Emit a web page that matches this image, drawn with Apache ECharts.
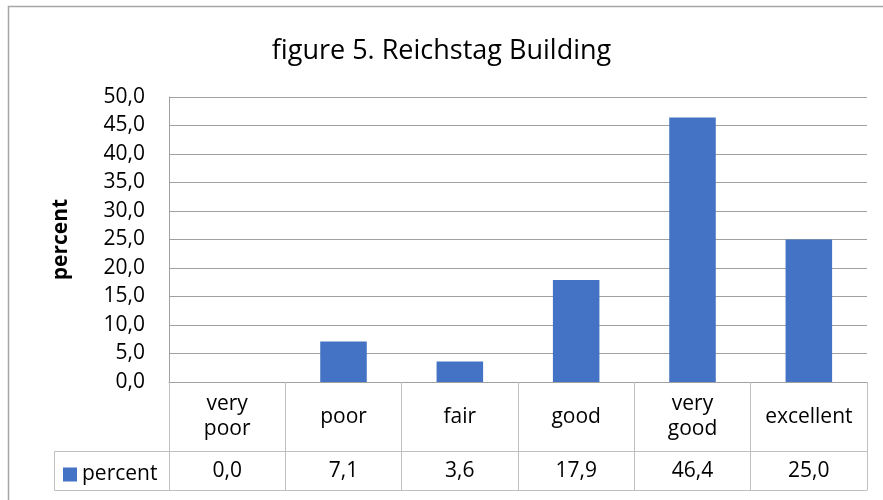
<!DOCTYPE html>
<html>
<head>
<meta charset="utf-8">
<script src="https://cdn.jsdelivr.net/npm/echarts@6/dist/echarts.min.js"></script>
<style>
html,body{margin:0;padding:0;background:#fff;}
#chart{width:883px;height:500px;}
</style>
</head>
<body>
<div id="chart"></div>
<script>
var titleText = 'figure 5. Reichstag Building';
var categories = ['very\npoor', 'poor', 'fair', 'good', 'very\ngood', 'excellent'];
var seriesName = 'percent';
var values = [0.0, 7.1, 3.6, 17.9, 46.4, 25.0];
var yTicks = [0, 5, 10, 15, 20, 25, 30, 35, 40, 45, 50];

function fmt(v) { return v.toFixed(1).replace('.', ','); }

var FONT = '"Open Sans", "Noto Sans", sans-serif';
var GRID_LINE = '#a0a0a0';
var TABLE_LINE = '#bfbfbf';

var chart = echarts.init(document.getElementById('chart'), null, {renderer: 'canvas'});
chart.setOption({
  animation: false,
  backgroundColor: '#fff',
  textStyle: {fontFamily: FONT},
  title: {
    text: titleText,
    left: 'center',
    top: 33,
    textStyle: {fontFamily: FONT, fontSize: 27, fontWeight: 'normal', color: '#000'}
  },
  legend: {
    data: [seriesName],
    left: 58,
    top: 459,
    icon: 'rect',
    itemWidth: 14,
    itemHeight: 14,
    itemGap: 6,
    textStyle: {fontFamily: FONT, fontSize: 21, color: '#000', padding: [0,0,0,0]}
  },
  grid: {left: 169, right: 16, top: 97, bottom: 118, containLabel: false},
  xAxis: [
    {
      type: 'category',
      data: categories,
      position: 'bottom',
      boundaryGap: true,
      axisLine: {show: true, lineStyle: {color: GRID_LINE, width: 1}},
      axisTick: {show: true, length: 108, lineStyle: {color: TABLE_LINE, width: 1}},
      axisLabel: {
        fontFamily: FONT, fontSize: 21, color: '#000', lineHeight: 25,
        verticalAlign: 'middle', margin: 35, interval: 0
      },
      splitLine: {show: false}
    },
    {
      type: 'category',
      data: values.map(fmt),
      position: 'bottom',
      offset: 69,
      boundaryGap: true,
      axisLine: {show: true, lineStyle: {color: TABLE_LINE, width: 1}},
      axisTick: {show: false},
      axisLabel: {
        fontFamily: FONT, fontSize: 21, color: '#000',
        verticalAlign: 'middle', margin: 20, interval: 0
      }
    },
    {
      type: 'category',
      data: categories,
      position: 'bottom',
      offset: 108,
      boundaryGap: true,
      axisLine: {show: true, lineStyle: {color: TABLE_LINE, width: 1}},
      axisTick: {show: false},
      axisLabel: {show: false}
    }
  ],
  yAxis: {
    type: 'value',
    min: yTicks[0],
    max: yTicks[yTicks.length - 1],
    interval: yTicks[1] - yTicks[0],
    name: seriesName,
    nameLocation: 'middle',
    nameGap: 97,
    nameRotate: 90,
    nameTextStyle: {fontFamily: FONT, fontSize: 21, fontWeight: 'bold', color: '#000'},
    axisLine: {show: true, lineStyle: {color: GRID_LINE, width: 1}},
    axisTick: {show: false},
    axisLabel: {
      fontFamily: FONT, fontSize: 21, color: '#000', margin: 24,
      formatter: function (v) { return fmt(v); }
    },
    splitLine: {show: true, lineStyle: {color: GRID_LINE, width: 1}}
  },
  graphic: [
    {type: 'rect', silent: true, z: -1,
     shape: {x: 8.5, y: 6.5, width: 900, height: 520},
     style: {fill: 'none', stroke: '#a6a6a6', lineWidth: 1.5}},
    {type: 'polyline', silent: true,
     shape: {points: [[169, 451.5], [54.5, 451.5], [54.5, 490.5], [169, 490.5]]},
     style: {fill: 'none', stroke: TABLE_LINE, lineWidth: 1}}
  ],
  series: [{
    name: seriesName,
    type: 'bar',
    xAxisIndex: 0,
    data: values,
    barWidth: '40%',
    itemStyle: {color: '#4472C4', borderWidth: 0}
  }]
});
</script>
</body>
</html>
